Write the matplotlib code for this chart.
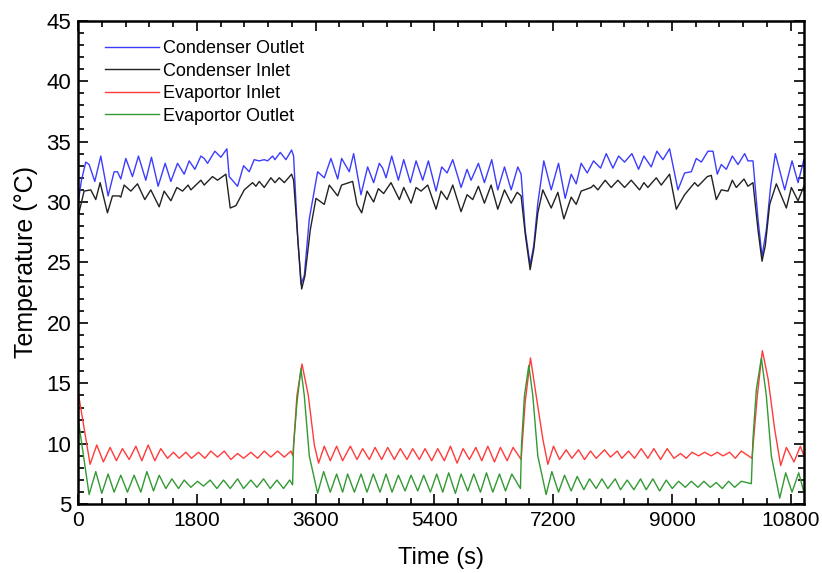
import matplotlib
matplotlib.use("Agg")
import matplotlib.pyplot as plt
from matplotlib.ticker import MultipleLocator

plt.rcParams['font.family'] = ['Liberation Sans', 'DejaVu Sans']

# values (time in s, temperature in degC)
cond_out_t = [0, 51, 116, 167, 253, 344, 455, 546, 597, 647, 723, 824, 915, 1026, 1112, 1213,
              1320, 1406, 1507, 1608, 1684, 1770, 1861, 1911, 1962, 2073, 2164, 2255, 2290,
              2417, 2508, 2594, 2669, 2745, 2821, 2872, 2948, 2983, 3064, 3150, 3236, 3266,
              3327, 3377, 3428, 3504, 3630, 3731, 3832, 3934, 3994, 4110, 4176, 4287, 4388,
              4479, 4565, 4616, 4667, 4753, 4854, 4935, 5036, 5122, 5223, 5309, 5425, 5511,
              5592, 5678, 5804, 5895, 5956, 6067, 6158, 6269, 6360, 6462, 6563, 6664, 6714,
              6775, 6851, 6906, 6967, 7058, 7170, 7281, 7382, 7473, 7549, 7624, 7716, 7812,
              7918, 8004, 8105, 8191, 8282, 8393, 8494, 8575, 8686, 8772, 8863, 8964, 9091,
              9192, 9293, 9369, 9445, 9546, 9622, 9687, 9748, 9824, 9915, 10001, 10102, 10152,
              10228, 10304, 10365, 10430, 10496, 10567, 10709, 10820, 10911, 11000]
cond_out = [29.9, 31.8, 33.3, 33.1, 31.7, 33.8, 30.5, 32.5, 32.5, 31.9, 33.6, 32.1, 33.8, 31.8,
            33.7, 31.3, 33.2, 31.7, 33.2, 32.3, 33.4, 32.7, 33.8, 33.6, 33.2, 34.2, 33.7, 34.4,
            32.1, 31.3, 33.0, 32.5, 33.5, 33.4, 33.5, 33.4, 33.8, 33.5, 34.1, 33.5, 34.3, 33.8,
            27.2, 23.2, 23.9, 28.6, 32.5, 32.0, 33.6, 31.9, 33.6, 32.5, 34.0, 30.6, 32.9, 31.6,
            33.2, 32.8, 32.0, 33.8, 31.8, 33.5, 31.6, 33.4, 31.8, 33.4, 30.9, 32.9, 32.4, 33.5,
            31.2, 32.7, 31.8, 33.2, 31.6, 33.5, 31.0, 32.9, 31.0, 32.9, 32.3, 27.7, 24.8, 26.4,
            29.9, 33.4, 31.0, 33.2, 30.3, 32.3, 31.5, 33.2, 32.4, 33.4, 32.8, 34.0, 32.8, 33.8,
            33.3, 34.0, 32.7, 33.8, 32.9, 34.2, 33.5, 34.4, 31.0, 32.4, 32.5, 33.6, 33.3, 34.2,
            34.2, 32.3, 33.1, 32.7, 33.8, 33.1, 34.0, 33.4, 33.4, 28.6, 25.5, 27.7, 31.3, 34.0,
            31.0, 33.4, 31.6, 33.5]

cond_in_t = [0, 91, 192, 268, 334, 445, 521, 622, 647, 698, 799, 900, 1011, 1102, 1229, 1304,
             1406, 1497, 1583, 1668, 1709, 1861, 1911, 2037, 2113, 2240, 2306, 2392, 2518,
             2644, 2695, 2745, 2821, 2922, 2983, 3049, 3125, 3236, 3266, 3337, 3388, 3438,
             3519, 3605, 3731, 3807, 3934, 3994, 4161, 4227, 4298, 4379, 4479, 4550, 4631,
             4742, 4869, 4935, 5046, 5122, 5198, 5299, 5425, 5501, 5592, 5678, 5804, 5895,
             5981, 6067, 6158, 6259, 6360, 6462, 6563, 6654, 6714, 6780, 6851, 6906, 6967,
             7043, 7170, 7271, 7362, 7473, 7549, 7624, 7776, 7812, 7877, 7988, 8079, 8181,
             8282, 8383, 8509, 8575, 8635, 8762, 8838, 8964, 9066, 9192, 9344, 9394, 9536,
             9596, 9672, 9748, 9849, 9915, 9975, 10092, 10152, 10228, 10304, 10365, 10415,
             10481, 10582, 10734, 10810, 10911, 11000]
cond_in = [28.8, 30.9, 31.0, 30.2, 31.6, 29.1, 30.5, 30.5, 30.4, 31.4, 30.9, 31.5, 30.2, 31.0,
           29.6, 30.9, 30.1, 31.2, 30.9, 31.4, 31.0, 31.8, 31.4, 32.1, 31.8, 32.3, 29.5, 29.7,
           31.0, 31.6, 31.3, 31.7, 31.2, 32.0, 31.6, 32.0, 31.6, 32.3, 31.8, 26.4, 22.8, 23.9,
           27.7, 30.3, 29.8, 31.4, 30.5, 31.4, 31.7, 29.8, 29.1, 30.9, 30.0, 31.1, 30.7, 31.6,
           30.2, 31.2, 29.9, 31.2, 30.9, 31.4, 29.4, 30.9, 30.2, 31.4, 29.2, 30.6, 30.2, 31.3,
           29.9, 31.4, 29.4, 31.0, 29.9, 30.8, 30.5, 27.2, 24.4, 26.1, 29.1, 31.0, 29.5, 30.8,
           28.6, 30.4, 29.8, 30.9, 31.2, 31.4, 31.0, 31.8, 31.2, 31.8, 31.2, 31.8, 31.0, 31.6,
           31.2, 32.0, 31.4, 32.3, 29.4, 30.6, 31.6, 31.3, 32.1, 32.2, 30.2, 31.0, 30.9, 31.8,
           31.2, 31.9, 31.3, 31.6, 27.7, 25.1, 26.4, 29.8, 31.5, 29.5, 31.2, 30.1, 31.3]

evap_in_t = [0, 182, 283, 384, 485, 581, 672, 774, 875, 966, 1062, 1163, 1254, 1355, 1446, 1532,
             1633, 1719, 1825, 1921, 2012, 2113, 2215, 2316, 2417, 2508, 2619, 2720, 2821,
             2922, 3023, 3125, 3226, 3256, 3317, 3393, 3489, 3580, 3645, 3731, 3822, 3918,
             4009, 4126, 4227, 4313, 4414, 4500, 4601, 4692, 4793, 4884, 4985, 5071, 5172,
             5258, 5359, 5450, 5551, 5643, 5744, 5835, 5931, 6027, 6118, 6209, 6310, 6401,
             6502, 6593, 6714, 6775, 6856, 6942, 7043, 7119, 7205, 7296, 7397, 7483, 7584,
             7675, 7766, 7852, 7978, 8069, 8170, 8241, 8342, 8433, 8534, 8635, 8726, 8827,
             8928, 9030, 9131, 9217, 9303, 9404, 9495, 9596, 9687, 9773, 9874, 9960, 10051,
             10213, 10294, 10370, 10456, 10557, 10648, 10734, 10850, 10946, 11000]
evap_in = [14.3, 8.3, 9.9, 8.5, 9.7, 8.6, 9.6, 8.7, 9.8, 8.6, 9.9, 8.6, 9.6, 8.8, 9.3, 8.8, 9.3,
           8.8, 9.3, 8.8, 9.4, 8.9, 9.4, 8.7, 9.2, 8.8, 9.3, 8.8, 9.4, 8.9, 9.4, 8.9, 9.4, 9.0,
           14.0, 16.6, 14.0, 9.9, 8.4, 9.8, 8.6, 9.8, 8.6, 9.8, 8.7, 9.6, 8.7, 9.7, 8.7, 9.7,
           8.7, 9.6, 8.7, 9.6, 8.7, 9.6, 8.6, 9.6, 8.6, 9.8, 8.4, 9.6, 8.7, 9.7, 8.6, 9.8, 8.5,
           9.7, 8.6, 9.7, 8.7, 13.4, 17.1, 14.0, 10.4, 8.3, 9.8, 8.7, 9.5, 8.8, 9.5, 8.7, 9.4,
           8.8, 9.5, 8.9, 9.4, 8.8, 9.4, 8.8, 9.6, 8.8, 9.6, 8.7, 9.6, 8.8, 9.2, 8.8, 9.3, 9.0,
           9.3, 9.0, 9.3, 9.0, 9.3, 8.8, 9.4, 8.8, 14.0, 17.7, 15.4, 11.2, 8.2, 9.7, 8.5, 9.8,
           9.0]

evap_out_t = [0, 167, 268, 359, 455, 546, 647, 748, 849, 951, 1042, 1143, 1229, 1330, 1421,
              1522, 1608, 1709, 1810, 1901, 2002, 2103, 2204, 2306, 2417, 2508, 2619, 2710,
              2811, 2912, 3013, 3114, 3206, 3251, 3266, 3317, 3377, 3428, 3504, 3630, 3721,
              3822, 3918, 4009, 4085, 4187, 4288, 4378, 4474, 4576, 4667, 4758, 4854, 4955,
              5046, 5147, 5238, 5339, 5435, 5526, 5617, 5718, 5804, 5905, 5996, 6098, 6189,
              6285, 6386, 6477, 6573, 6704, 6720, 6765, 6831, 6891, 6967, 7093, 7180, 7281,
              7372, 7473, 7564, 7665, 7751, 7852, 7938, 8029, 8140, 8221, 8322, 8423, 8524,
              8610, 8711, 8813, 8914, 9005, 9101, 9202, 9293, 9394, 9485, 9581, 9672, 9763,
              9859, 9950, 10051, 10203, 10228, 10279, 10355, 10430, 10506, 10633, 10724,
              10820, 10921, 11000]
evap_out = [12.1, 5.8, 7.7, 5.9, 7.5, 6.0, 7.4, 6.0, 7.4, 6.0, 7.7, 6.1, 7.4, 6.3, 7.1, 6.3, 7.0,
            6.4, 6.9, 6.5, 7.0, 6.3, 7.0, 6.3, 7.1, 6.3, 7.0, 6.4, 7.1, 6.3, 7.0, 6.3, 7.0, 6.6,
            9.9, 13.4, 16.2, 14.0, 9.0, 5.9, 7.7, 6.0, 7.5, 6.0, 7.5, 6.0, 7.5, 6.0, 7.5, 6.0,
            7.5, 6.0, 7.4, 6.1, 7.4, 6.1, 7.4, 6.0, 7.5, 6.0, 7.6, 5.9, 7.5, 6.1, 7.5, 6.0, 7.6,
            6.0, 7.5, 6.1, 7.5, 6.3, 9.9, 14.0, 16.5, 14.0, 9.0, 5.8, 7.7, 6.0, 7.4, 6.1, 7.3,
            6.2, 7.1, 6.3, 7.1, 6.3, 7.1, 6.2, 7.0, 6.2, 7.1, 6.2, 7.1, 6.1, 7.0, 6.3, 6.9, 6.4,
            6.9, 6.4, 6.9, 6.4, 6.8, 6.3, 6.9, 6.4, 6.9, 6.7, 10.4, 14.5, 17.1, 14.0, 9.0, 5.5,
            7.6, 6.0, 7.6, 6.0]

fig = plt.figure(figsize=(8.22, 5.73), dpi=100)
ax = fig.add_axes([0.095, 0.12, 0.883, 0.844])

ax.plot(cond_out_t, cond_out, color='#3c3cff', lw=1.0, label='Condenser Outlet')
ax.plot(cond_in_t, cond_in, color='#222222', lw=1.0, label='Condenser Inlet')
ax.plot(evap_in_t, evap_in, color='#ff3b3b', lw=1.0, label='Evaportor Inlet')
ax.plot(evap_out_t, evap_out, color='#339933', lw=1.0, label='Evaportor Outlet')

ax.set_xlim(0, 11000)
ax.set_ylim(5, 45)
ax.xaxis.set_major_locator(MultipleLocator(1800))
ax.xaxis.set_minor_locator(MultipleLocator(360))
ax.yaxis.set_major_locator(MultipleLocator(5))
ax.yaxis.set_minor_locator(MultipleLocator(1))
ax.tick_params(which='both', direction='in', top=True, right=True, width=1.2)
ax.tick_params(which='major', length=7, pad=5)
ax.tick_params(which='minor', length=4)
ax.tick_params(axis='x', labelsize=15)
ax.tick_params(axis='y', labelsize=16)
for s in ax.spines.values():
    s.set_linewidth(1.8)

ax.set_xlabel('Time (s)', fontsize=17, labelpad=12)
ax.set_ylabel('Temperature (°C)', fontsize=18, labelpad=6)

ax.legend(loc='upper left', frameon=False, fontsize=13, handlelength=3.0,
          handletextpad=0.2, labelspacing=0.3, bbox_to_anchor=(0.015, 0.993))

fig.savefig('out.png', dpi=100)
